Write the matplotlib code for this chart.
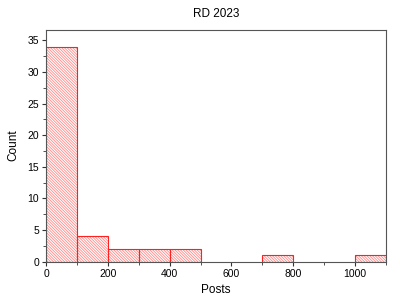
import matplotlib
matplotlib.use("Agg")
import matplotlib.pyplot as plt
from matplotlib.ticker import MultipleLocator

plt.rcParams["font.family"] = ["Liberation Sans", "DejaVu Sans"]
plt.rcParams["hatch.linewidth"] = 0.6

# Histogram of posts: bin left edges (width 100) and counts
bin_left = [0, 100, 200, 300, 400, 500, 600, 700, 800, 900, 1000]
counts = [34, 4, 2, 2, 2, 0, 0, 1, 0, 0, 1]
bin_width = 100

fig = plt.figure(figsize=(4.0, 2.99), dpi=100)
ax = fig.add_axes([0.115, 0.125, 0.85, 0.776])

shown = [(x, c) for x, c in zip(bin_left, counts) if c > 0]
xs = [x for x, _ in shown]
hs = [c for _, c in shown]
# light hatch fill, then solid red outline on top
ax.bar(xs, hs, width=bin_width, align="edge", color="white",
       edgecolor="#ff8a8a", hatch="\\" * 12, linewidth=0)
ax.bar(xs, hs, width=bin_width, align="edge", fill=False,
       edgecolor="#ff2020", linewidth=0.8)

ax.set_xlim(0, 1100)
ax.set_ylim(0, 36.7)
ax.xaxis.set_major_locator(MultipleLocator(200))
ax.xaxis.set_minor_locator(MultipleLocator(100))
ax.yaxis.set_major_locator(MultipleLocator(5))
ax.yaxis.set_minor_locator(MultipleLocator(2.5))
ax.tick_params(which="both", direction="out", labelsize=7.5, color="#333333", pad=2)
ax.tick_params(which="major", length=3)
ax.tick_params(which="minor", length=2)
for s in ax.spines.values():
    s.set_color("#555555")
    s.set_linewidth(0.8)

ax.set_title("RD 2023", fontsize=8.5, pad=9)
ax.set_xlabel("Posts", fontsize=8.5, labelpad=4)
ax.set_ylabel("Count", fontsize=8.5, labelpad=6)

fig.savefig("out.png", dpi=100)
